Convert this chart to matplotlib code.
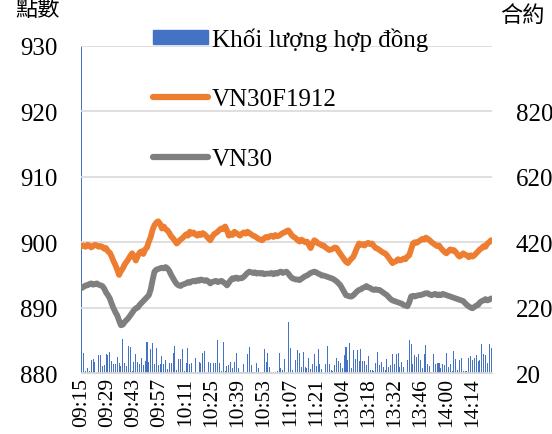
import numpy as np
import pandas as pd
import matplotlib
matplotlib.use("Agg")
import matplotlib.pyplot as plt
from matplotlib.lines import Line2D
from matplotlib.patches import Patch

#%% data (one value per minute)
times = list(pd.date_range("2019-12-03 09:15", "2019-12-03 11:30", freq="min").strftime("%H:%M")) + \
        list(pd.date_range("2019-12-03 13:00", "2019-12-03 14:24", freq="min").strftime("%H:%M"))

vn30f = [899.4, 899.5, 899.3, 899.6, 899.5, 899.2, 899.4, 899.6, 899.5, 899.3,
         899.4, 899.3, 899.0, 899.1, 898.6, 898.4, 897.8, 897.1, 896.5, 895.8,
         895.0, 895.6, 896.0, 896.6, 897.0, 897.4, 897.9, 898.3, 897.8, 897.2,
         897.9, 898.4, 898.6, 898.2, 898.9, 899.2, 900.1, 900.8, 901.9, 902.6,
         903.0, 903.2, 902.8, 902.1, 902.4, 902.0, 901.8, 901.4, 900.9, 900.6,
         900.2, 899.8, 900.1, 900.4, 900.6, 900.9, 901.2, 901.0, 901.6, 901.3,
         901.5, 901.2, 901.0, 901.3, 901.1, 901.4, 901.2, 900.9, 900.6, 900.3,
         900.8, 901.2, 901.4, 901.6, 901.9, 902.1, 902.0, 902.4, 901.8, 901.0,
         901.3, 901.1, 901.6, 901.4, 901.2, 901.0, 901.3, 901.5, 901.3, 901.6,
         901.4, 901.2, 901.0, 900.9, 900.7, 900.5, 900.4, 900.3, 900.6, 900.8,
         900.7, 900.9, 901.0, 900.8, 901.1, 900.9, 901.0, 901.2, 901.4, 901.5,
         901.7, 901.8, 901.4, 901.0, 900.8, 900.6, 900.3, 900.1, 900.4, 900.2,
         900.0, 900.1, 899.6, 899.1, 899.8, 900.3, 900.1, 899.8, 899.7, 899.5,
         899.5, 899.2, 899.0, 898.8, 898.9, 899.0, 899.2, 899.1, 898.6, 898.2,
         897.8, 897.4, 897.0, 896.8, 897.2, 897.5, 897.8, 898.5, 899.2, 899.8,
         899.6, 899.7, 899.5, 899.8, 899.9, 899.7, 899.8, 899.4, 899.1, 899.0,
         898.8, 898.6, 898.4, 898.3, 898.0, 897.6, 897.2, 896.8, 897.0, 897.1,
         897.4, 897.2, 897.3, 897.5, 897.4, 897.8, 898.0, 898.9, 899.8, 900.0,
         899.9, 900.1, 900.3, 900.5, 900.4, 900.7, 900.5, 900.3, 900.0, 899.8,
         899.6, 899.4, 899.5, 899.1, 898.8, 898.5, 898.3, 898.6, 898.9, 898.7,
         898.8, 898.5, 898.1, 897.8, 898.0, 898.3, 898.1, 898.0, 897.7, 898.0,
         897.8, 898.0, 898.3, 898.6, 898.9, 899.1, 899.4, 899.3, 899.8, 900.0,
         900.3]

vn30 = [893.0, 893.2, 893.4, 893.4, 893.6, 893.7, 893.5, 893.6, 893.7, 893.5,
        893.4, 893.3, 892.9, 892.3, 891.9, 891.4, 890.6, 889.9, 889.3, 888.8,
        888.0, 887.3, 887.4, 887.8, 888.1, 888.4, 888.8, 889.2, 889.6, 889.9,
        890.0, 890.4, 890.7, 891.0, 891.3, 891.6, 891.9, 892.8, 894.2, 895.5,
        895.8, 895.9, 896.0, 896.1, 896.0, 896.2, 896.0, 895.6, 895.0, 894.5,
        894.0, 893.6, 893.4, 893.3, 893.5, 893.6, 893.7, 893.9, 893.8, 894.0,
        894.1, 894.0, 894.2, 894.1, 894.3, 894.2, 894.1, 894.2, 894.0, 893.7,
        893.9, 894.0, 894.1, 893.9, 894.0, 894.1, 893.9, 893.7, 893.4, 893.8,
        894.2, 894.5, 894.4, 894.6, 894.4, 894.5, 894.5, 894.7, 895.0, 895.3,
        895.5, 895.4, 895.3, 895.4, 895.2, 895.3, 895.2, 895.3, 895.1, 895.2,
        895.2, 895.2, 895.3, 895.1, 895.3, 895.2, 895.4, 895.5, 895.3, 895.4,
        895.5, 895.2, 894.8, 894.5, 894.4, 894.3, 894.3, 894.2, 894.4, 894.6,
        894.8, 894.9, 895.1, 895.3, 895.4, 895.5, 895.4, 895.2, 895.1, 894.9,
        894.9, 894.8, 894.7, 894.6, 894.5, 894.4, 894.2, 894.0, 893.7, 893.4,
        892.9, 892.4, 891.9, 891.8, 891.7, 891.7, 891.9, 892.2, 892.5, 892.7,
        892.8, 893.0, 893.1, 893.3, 893.1, 893.0, 892.8, 892.7, 892.8, 892.7,
        892.7, 892.5, 892.3, 892.1, 891.9, 891.6, 891.3, 891.1, 891.0, 890.9,
        890.8, 890.7, 890.6, 890.4, 890.3, 890.2, 890.8, 891.7, 891.8, 891.7,
        891.8, 891.9, 891.9, 892.0, 892.1, 892.2, 892.2, 892.0, 891.9, 892.0,
        892.1, 891.9, 892.0, 891.9, 892.1, 892.0, 891.9, 891.8, 891.7, 891.6,
        891.5, 891.4, 891.3, 891.2, 891.1, 891.0, 890.7, 890.4, 890.2, 890.0,
        889.9, 890.1, 890.3, 890.4, 890.8, 891.0, 891.1, 891.3, 891.1, 891.2,
        891.4]

volume = [2000, 80, 27, 34, 27, 60, 62, 55, 22, 74, 74,
          40, 45, 77, 74, 85, 57, 47, 47, 70, 52,
          40, 124, 50, 40, 104, 100, 27, 55, 77, 55,
          47, 67, 45, 57, 115, 55, 94, 112, 47, 97,
          44, 49, 72, 47, 60, 32, 52, 52, 80, 104,
          30, 62, 64, 94, 27, 50, 97, 47, 50, 24,
          67, 22, 55, 50, 80, 87, 22, 55, 50, 22,
          50, 50, 122, 50, 27, 114, 27, 40, 44, 54,
          34, 55, 82, 34, 22, 22, 49, 22, 77, 100,
          45, 22, 22, 50, 35, 22, 22, 92, 55, 82,
          37, 22, 24, 24, 25, 82, 34, 30, 62, 22, 177,
          97, 29, 20, 59, 89, 80, 39, 85, 39, 35,
          65, 32, 47, 79, 42, 92, 49, 32, 20, 47,
          104, 47, 29, 27, 45, 65, 57, 50, 35,
          74, 100, 59, 112, 35, 90, 62, 89, 57, 94,
          57, 57, 45, 72, 29, 29, 27, 52, 85, 45,
          55, 39, 30, 62, 37, 45, 79, 47, 79, 82,
          37, 55, 39, 20, 60, 120, 110, 49, 75, 69,
          77, 59, 35, 79, 107, 47, 42, 22, 77, 49,
          52, 52, 34, 49, 44, 82, 39, 49, 27, 87,
          62, 30, 59, 65, 27, 27, 27, 67, 72, 59,
          65, 74, 57, 59, 109, 77, 74, 52, 109, 95]

x = np.arange(len(times))

plt.rcParams['font.family'] = ['Liberation Serif', 'Noto Sans CJK TC']

#%% figure
fig = plt.figure(figsize=(5.52, 4.35), dpi=100)
ax = fig.add_axes([0.1467, 0.1402, 0.7446, 0.7518])
ax2 = ax.twinx()
ax.set_zorder(ax2.get_zorder() + 1)
ax.patch.set_visible(False)

ax2.bar(x, volume, bottom=0, width=0.55, color='#4472C4', linewidth=0)
ax2.set_ylim(20, 1020)
ax2.set_yticks([20, 220, 420, 620, 820])

ax.plot(x, vn30f, color='#ED7D31', lw=4.2, solid_capstyle='round')
ax.plot(x, vn30, color='#7F7F7F', lw=4.2, solid_capstyle='round')
ax.set_ylim(880, 930)
ax.set_yticks([880, 890, 900, 910, 920, 930])
ax.set_xlim(-0.5, len(times) - 0.5)
ax.grid(axis='y', color='#D9D9D9', lw=1.2)
ax.set_axisbelow(True)

ax.set_xticks(x[::14])
ax.set_xticklabels([times[i] for i in x[::14]], rotation=90)

for a in (ax, ax2):
    for s in a.spines.values():
        s.set_visible(False)
    a.tick_params(length=0, labelsize=18, colors='black')
ax.spines['bottom'].set_visible(True)
ax.spines['bottom'].set_color('#D9D9D9')
ax.tick_params(axis='y', pad=17)
ax.tick_params(axis='x', pad=3, labelsize=15.5)
ax2.tick_params(axis='y', pad=17)

fig.text(0.068, 0.975, '點數', fontsize=16, ha='center', va='center')
fig.text(0.947, 0.962, '合約', fontsize=16, ha='center', va='center')

handles = [Patch(color='#4472C4'),
           Line2D([], [], color='#ED7D31', lw=4.5, solid_capstyle='round'),
           Line2D([], [], color='#7F7F7F', lw=4.5, solid_capstyle='round')]
fig.legend(handles, ['Khối lượng hợp đồng', 'VN30F1912', 'VN30'],
           loc='upper left', bbox_to_anchor=(0.278, 0.935), frameon=False,
           fontsize=18, labelspacing=1.5, handlelength=2.2, handleheight=0.45,
           handletextpad=0.15, borderaxespad=0, borderpad=0)

fig.savefig('out.png', dpi=100)
